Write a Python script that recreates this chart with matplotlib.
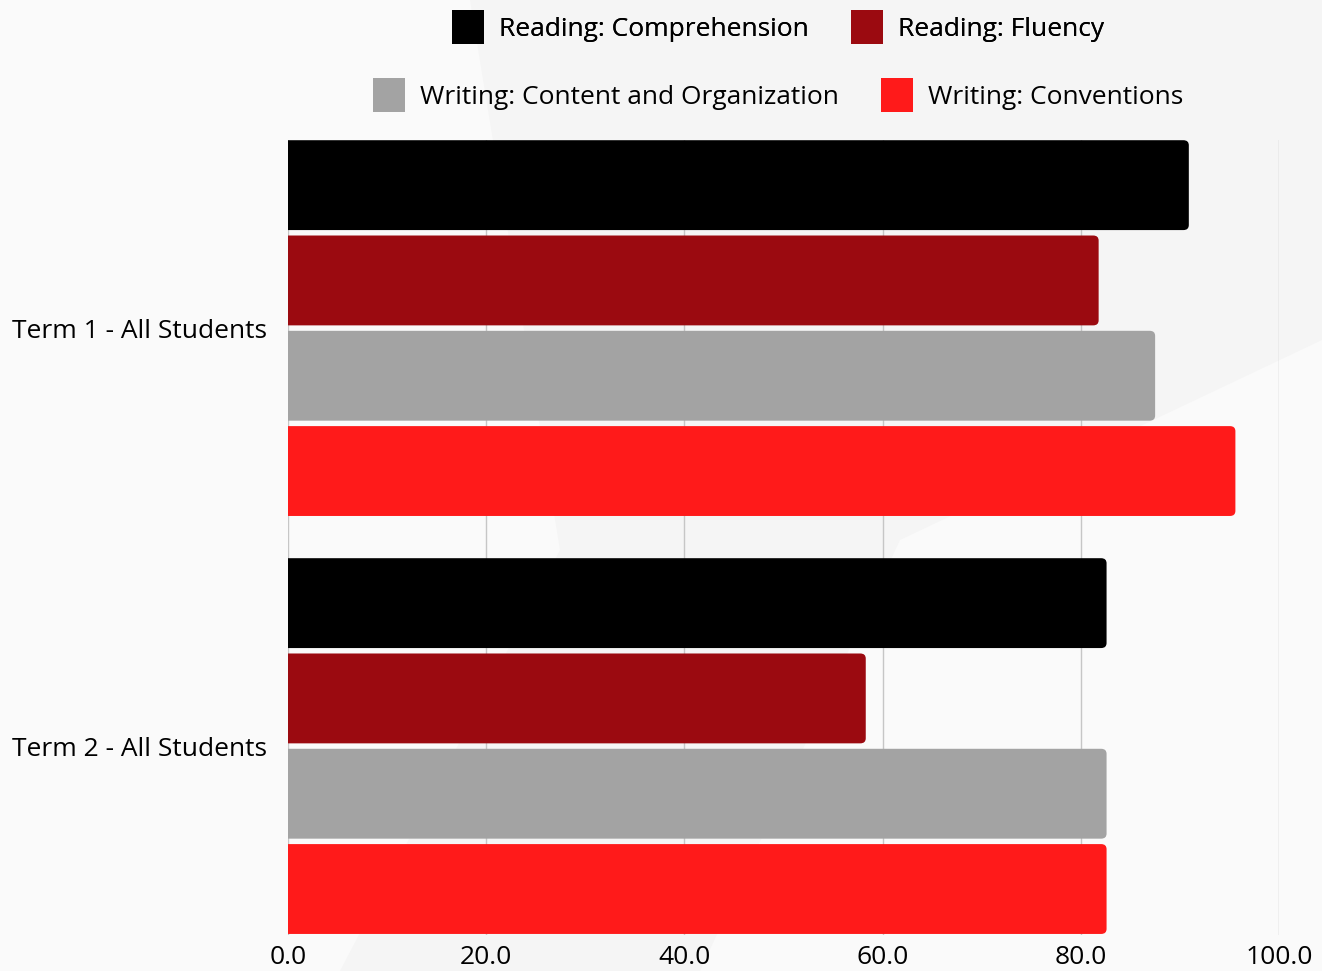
import numpy as np
import matplotlib
matplotlib.use("Agg")
import matplotlib.pyplot as plt
from matplotlib.patches import Polygon, FancyBboxPatch, Patch

plt.rcParams['font.family'] = ['Open Sans', 'DejaVu Sans']

categories = ["Term 1 - All Students", "Term 2 - All Students"]
series = ["Reading: Comprehension", "Reading: Fluency",
          "Writing: Content and Organization", "Writing: Conventions"]
values = [
    [90.9, 82.6],   # Reading: Comprehension
    [81.8, 58.3],   # Reading: Fluency
    [87.5, 82.6],   # Writing: Content and Organization
    [95.6, 82.6],   # Writing: Conventions
]
colors = ["#000000", "#9b0a10", "#a3a3a3", "#ff1a1a"]
xticks = [0, 20, 40, 60, 80, 100]

W, H = 1322, 971
fig = plt.figure(figsize=(W / 100, H / 100), dpi=100)
fig.patch.set_facecolor("#f5f5f5")

# faint background shapes
bg = fig.add_axes([0, 0, 1, 1], zorder=-10)
bg.set_xlim(0, W)
bg.set_ylim(H, 0)
bg.axis("off")
bg.add_patch(Polygon([[0, 0], [470, 0], [560, 550], [340, 971], [0, 971]],
                     closed=True, facecolor="#fafafa", edgecolor="none"))
bg.add_patch(Polygon([[1322, 340], [900, 540], [700, 971], [1322, 971]],
                     closed=True, facecolor="#fafafa", edgecolor="none"))

ax = fig.add_axes([288 / W, 1 - 935 / H, (1279 - 288) / W, (935 - 140) / H])
ax.set_facecolor("none")

y = np.arange(len(categories))
offsets = [-0.342, -0.114, 0.114, 0.342]
h = 0.215
for i, s in enumerate(series):
    bars = ax.barh(y + offsets[i], values[i], height=h, color=colors[i], label=s)
    # replace plain rectangles with right-rounded ones
    for r in bars.patches:
        fb = FancyBboxPatch((r.get_x() - 2, r.get_y()), r.get_width() + 2, r.get_height(),
                            boxstyle="round,pad=0,rounding_size=0.55",
                            mutation_aspect=0.022, facecolor=colors[i],
                            edgecolor="none", zorder=3)
        ax.add_patch(fb)
        r.remove()

ax.set_ylim(1.452, -0.45)
ax.set_xlim(0, 100)
ax.set_yticks(y)
ax.set_yticklabels(categories, fontsize=19)
ax.set_xticks(xticks)
ax.set_xticklabels([f"{v:.1f}" for v in xticks], fontsize=19)
ax.tick_params(length=0)
ax.tick_params(axis='y', pad=15)
ax.tick_params(axis='x', pad=7)
ax.grid(axis='x', color="#c6c6c6", linewidth=1, zorder=0)
for sp in ax.spines.values():
    sp.set_visible(False)

handles = [Patch(facecolor=c, edgecolor="none") for c in colors]
kw = dict(ncol=2, frameon=False, fontsize=19, handlelength=1.2, handleheight=1.55,
          handletextpad=0.57, columnspacing=1.6, loc="center", borderpad=0)
leg1 = fig.legend(handles[:2], series[:2], bbox_to_anchor=(778 / W, 1 - 27 / H), **kw)
fig.add_artist(leg1)
fig.legend(handles[2:], series[2:], bbox_to_anchor=(778 / W, 1 - 95 / H), **kw)

fig.savefig("out.png", dpi=100, facecolor=fig.get_facecolor())
